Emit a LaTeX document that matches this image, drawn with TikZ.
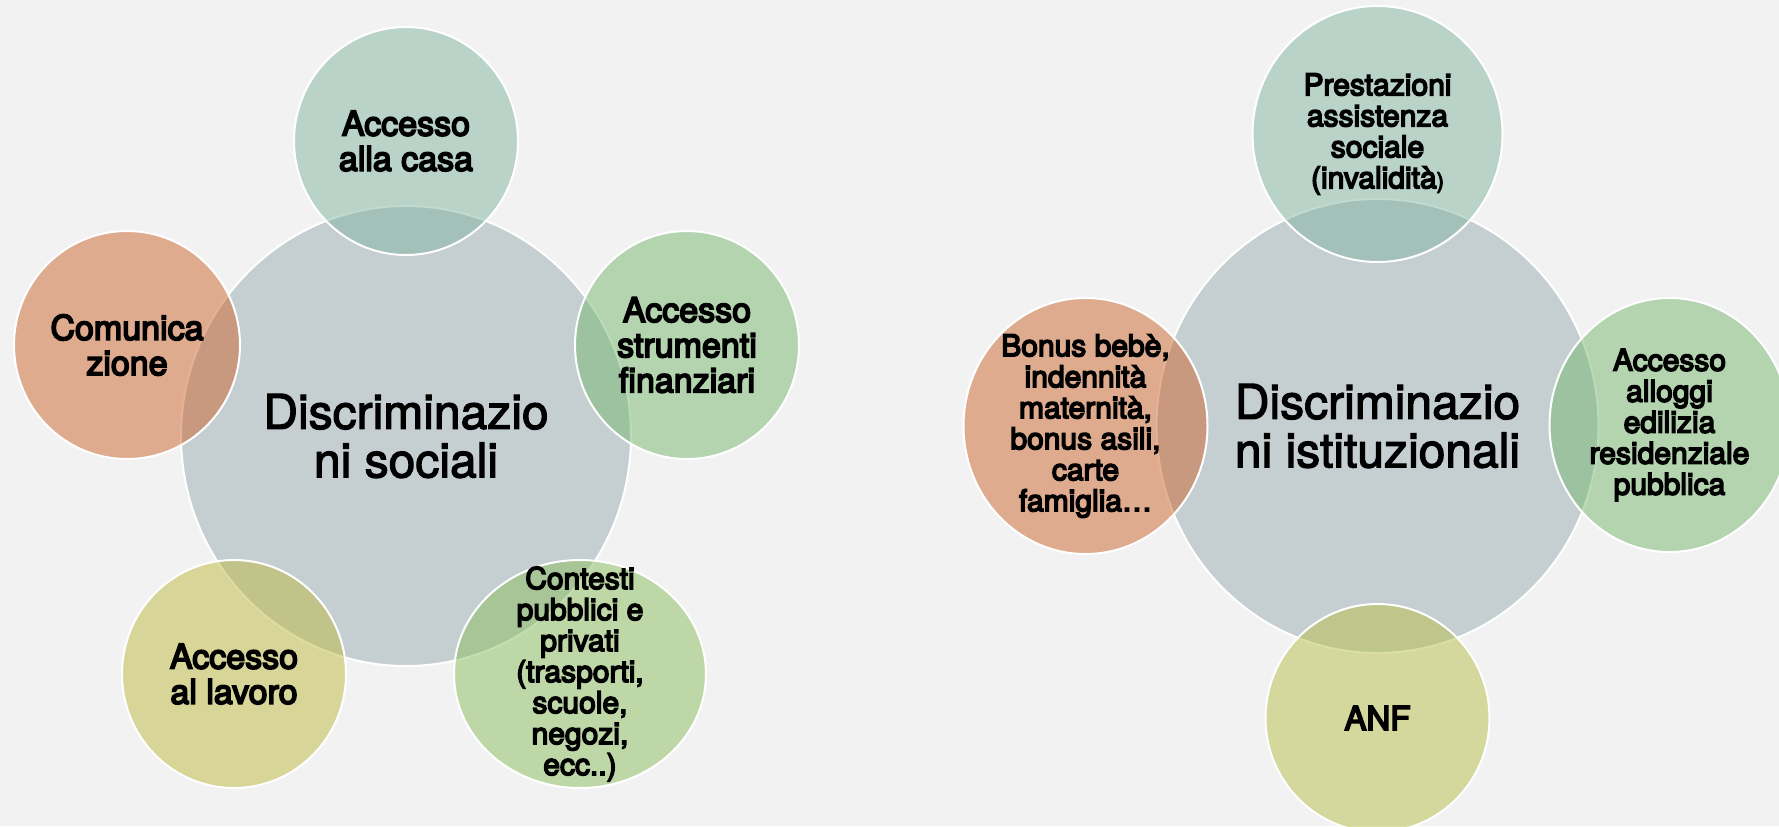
\documentclass[tikz,border=0pt]{standalone}
\usepackage{fontspec}
\setmainfont{TeX Gyre Heros}
\newfontfamily\satfont{TeX Gyre Heros}[FakeBold=5]
\newfontfamily\hubfont{TeX Gyre Heros}[FakeBold=2.5]
\usetikzlibrary{shapes.geometric}
\definecolor{paper}{HTML}{F2F2F2}
\definecolor{hubcol}{HTML}{C5CED1}
\definecolor{tealcol}{HTML}{82B6A2}
\definecolor{greencol}{HTML}{76B86E}
\definecolor{limecol}{HTML}{8CBE5E}
\definecolor{salmoncol}{HTML}{CC662C}
\definecolor{olivecol}{HTML}{C0BA42}
\definecolor{olivebcol}{HTML}{B8C048}
\tikzstyle{hub}=[ellipse, draw=white, line width=1pt, fill=hubcol, inner sep=0pt]
\tikzstyle{sat}=[ellipse, draw=white, line width=1pt, fill opacity=0.5, inner sep=0pt]
\tikzstyle{big}=[align=center, font=\hubfont\fontsize{24}{24.25}\selectfont]
\tikzstyle{lbl}=[align=center, font=\satfont\fontsize{17}{17.6}\selectfont]
\tikzstyle{sml}=[align=center, font=\satfont\fontsize{15}{15.5}\selectfont]
\def\socdist{295}
\def\istdist{292}

\begin{document}
\begin{tikzpicture}[x=0.5pt, y=-0.5pt]
    \clip (0,0) rectangle (1779,826);
    \fill[paper] (0,0) rectangle (1779,826);
    % discriminazioni sociali
    \node (soc) [hub, minimum width=225pt, minimum height=230pt] at (406,436) {};
    \node (soc-t) [big] at (soc) {Discriminazio\\ni sociali};
    \path (soc)+(0,-\socdist) node (casa) [sat, fill=tealcol,
        minimum width=112pt, minimum height=114pt] {};
    \path (soc)+(281,-91) node (fin) [sat, fill=greencol,
        minimum width=112pt, minimum height=114pt] {};
    \path (soc)+(-279,-91) node (com) [sat, fill=salmoncol,
        minimum width=113pt, minimum height=114pt] {};
    \path (soc)+(-172,238) node (lav) [sat, fill=olivecol,
        minimum width=112pt, minimum height=114pt] {};
    \path (soc)+(174,238) node (ctx) [sat, fill=limecol,
        minimum width=126pt, minimum height=114pt] {};
    \node (casa-t) [lbl] at (casa) {Accesso\\alla casa};
    \node (fin-t) [lbl] at (fin) {Accesso\\strumenti\\finanziari};
    \node (com-t) [lbl] at (com) {Comunica\\zione};
    \node (lav-t) [lbl] at (lav) {Accesso\\al lavoro};
    \node (ctx-t) [sml] at (ctx) {Contesti\\pubblici e\\privati\\(trasporti,\\scuole,\\negozi,\\ecc..)};
    % discriminazioni istituzionali
    \node (ist) [hub, minimum width=221pt, minimum height=227pt] at (1377.5,426) {};
    \node (ist-t) [big] at (ist) {Discriminazio\\ni istituzionali};
    \path (ist)+(0,-\istdist) node (prest) [sat, fill=tealcol,
        minimum width=125pt, minimum height=128pt] {};
    \path (ist)+(-\istdist,0) node (bonus) [sat, fill=salmoncol,
        minimum width=122pt, minimum height=128pt] {};
    \path (ist)+(\istdist,-1) node (allog) [sat, fill=greencol,
        minimum width=120pt, minimum height=127pt] {};
    \path (ist)+(0,\istdist) node (anf) [sat, fill=olivebcol,
        minimum width=112pt, minimum height=114pt] {};
    \node (prest-t) [sml] at (prest) {Prestazioni\\assistenza\\sociale\\(invalidità{\fontsize{11}{15.5}\selectfont)}};
    \node (bonus-t) [sml] at (bonus) {Bonus bebè,\\indennità\\maternità,\\bonus asili,\\carte\\famiglia…};
    \node (allog-t) [sml] at (allog) {Accesso\\alloggi\\edilizia\\residenziale\\pubblica};
    \node (anf-t) [align=center, font=\satfont\fontsize{16.5}{17}\selectfont] at (anf) {ANF};
\end{tikzpicture}
\end{document}
